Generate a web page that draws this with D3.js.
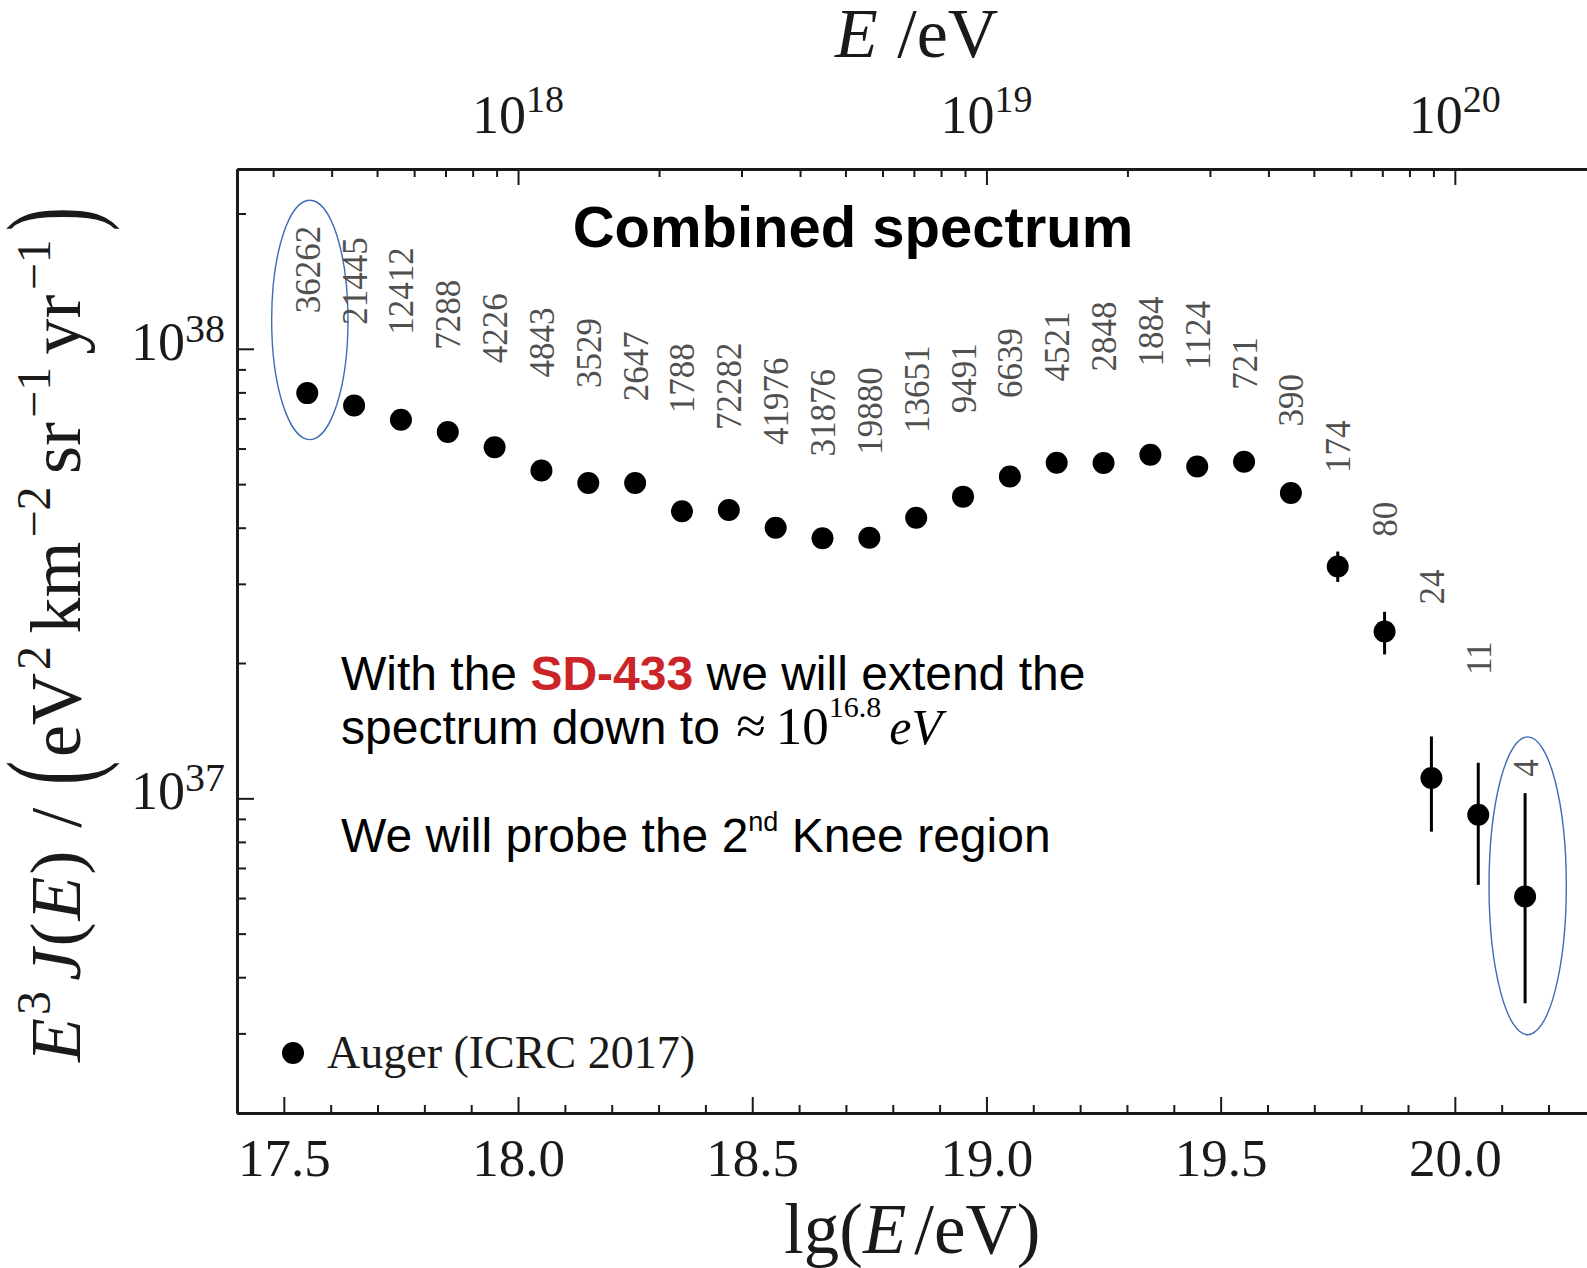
<!DOCTYPE html>
<html>
<head>
<meta charset="utf-8">
<script src="https://cdn.jsdelivr.net/npm/d3@7"></script>
<style>
  html, body { margin: 0; padding: 0; background: #fff; }
  svg { display: block; }
</style>
</head>
<body>
<svg id="chart" width="1587" height="1268"></svg>
<script>
// Auger combined spectrum (ICRC 2017): bin centres in lg(E/eV)
const lgEnergy = [17.55, 17.65, 17.75, 17.85, 17.95, 18.05, 18.15, 18.25, 18.35,
                  18.45, 18.55, 18.65, 18.75, 18.85, 18.95, 19.05, 19.15, 19.25,
                  19.35, 19.45, 19.55, 19.65, 19.75, 19.85, 19.95, 20.05, 20.15];

// E^3 J(E) in eV^2 km^-2 sr^-1 yr^-1
const fluxE3J = [7.97e37, 7.48e37, 6.95e37, 6.53e37, 6.04e37, 5.36e37, 5.03e37, 5.03e37, 4.35e37,
                 4.38e37, 4.00e37, 3.79e37, 3.80e37, 4.21e37, 4.69e37, 5.20e37, 5.58e37, 5.57e37,
                 5.81e37, 5.47e37, 5.61e37, 4.78e37, 3.28e37, 2.35e37, 1.11e37, 9.19e36, 6.05e36];

// error bar limits (null where the bar is hidden by the marker)
const fluxLow  = [null, null, null, null, null, null, null, null, null,
                  null, null, null, null, null, null, null, null, null,
                  null, null, null, null, 3.03e37, 2.09e37, 8.43e36, 6.42e36, 3.50e36];
const fluxHigh = [null, null, null, null, null, null, null, null, null,
                  null, null, null, null, null, null, null, null, null,
                  null, null, null, null, 3.54e37, 2.60e37, 1.373e37, 1.20e37, 1.027e37];

// number of events per bin
const eventCounts = [36262, 21445, 12412, 7288, 4226, 4843, 3529, 2647, 1788,
                     72282, 41976, 31876, 19880, 13651, 9491, 6639, 4521, 2848,
                     1884, 1124, 721, 390, 174, 80, 24, 11, 4];

// flux level where each event-count label starts
const countLabelLevel = [1.20e38, 1.131e38, 1.074e38, 9.95e37, 9.29e37, 8.63e37, 8.18e37, 7.64e37, 7.19e37,
                         6.60e37, 6.11e37, 5.76e37, 5.81e37, 6.50e37, 7.19e37, 7.77e37, 8.46e37, 8.90e37,
                         9.13e37, 8.98e37, 8.11e37, 6.72e37, 5.29e37, 3.82e37, 2.70e37, 1.88e37, 1.117e37];

// tick labels
const bottomTickValues = [17.5, 18.0, 18.5, 19.0, 19.5, 20.0];
const topDecades = [18, 19, 20];
const leftDecades = [37, 38];

// highlighted bins (lg E range and flux range enclosed by each ellipse)
const highlightLgLow   = [17.474, 20.073];
const highlightLgHigh  = [17.637, 20.238];
const highlightFluxLow  = [6.28e37, 2.98e36];
const highlightFluxHigh = [2.14e38, 1.37e37];

const svg = d3.select("#chart");
const SERIF = "'Liberation Serif', 'Times New Roman', serif";
const SANS = "'Liberation Sans', Arial, sans-serif";
const INK = "#1a1a1a";

// plot frame
const frameLeft = 237, frameTop = 169, frameBottom = 1113;
const pxPerLg = 468.4;

const x = d3.scaleLinear().domain([17.4, 20.4]).range([frameLeft, frameLeft + 3 * pxPerLg]);
const xE = d3.scaleLog().domain([Math.pow(10, 17.4), Math.pow(10, 20.4)]).range(x.range());
const y = d3.scaleLog().domain([Math.pow(10, 36.3), Math.pow(10, 38.4)]).range([frameBottom, frameTop]);

function styleAxis(g) {
  g.select(".domain").attr("stroke", INK).attr("stroke-width", 3);
  g.selectAll(".tick line").attr("stroke", INK).attr("stroke-width", 2);
}

// ---- bottom axis: lg(E/eV)
const minorX = d3.range(175, 203).map(d => d / 10).filter(v => Math.abs(v * 2 - Math.round(v * 2)) > 1e-6);
const gBottomMinor = svg.append("g").attr("transform", `translate(0,${frameBottom})`)
  .call(d3.axisBottom(x).tickValues(minorX).tickSizeInner(-8).tickSizeOuter(0).tickFormat(""));
styleAxis(gBottomMinor);
const gBottom = svg.append("g").attr("transform", `translate(0,${frameBottom})`)
  .call(d3.axisBottom(x).tickValues(bottomTickValues).tickSizeInner(-16).tickSizeOuter(0)
        .tickPadding(25).tickFormat(d3.format(".1f")));
styleAxis(gBottom);
gBottom.selectAll(".tick text")
  .style("font-family", SERIF).style("font-size", "53px").attr("fill", INK);

// ---- top axis: E/eV
const minorE = [];
[17, 18, 19, 20].forEach(p => {
  for (let m = 2; m <= 9; m++) {
    const v = m * Math.pow(10, p);
    if (v > xE.domain()[0] && v < xE.domain()[1]) minorE.push(v);
  }
});
const gTopMinor = svg.append("g").attr("transform", `translate(0,${frameTop})`)
  .call(d3.axisTop(xE).tickValues(minorE).tickSizeInner(-8).tickSizeOuter(0).tickFormat(""));
styleAxis(gTopMinor);
const gTop = svg.append("g").attr("transform", `translate(0,${frameTop})`)
  .call(d3.axisTop(xE).tickValues(topDecades.map(p => Math.pow(10, p)))
        .tickSizeInner(-16).tickSizeOuter(0).tickFormat(""));
styleAxis(gTop);

const topLabels = svg.append("g").selectAll("text").data(topDecades).join("text")
  .attr("x", p => xE(Math.pow(10, p)))
  .attr("y", 133)
  .attr("text-anchor", "middle")
  .style("font-family", SERIF).style("font-size", "54px").attr("fill", INK);
topLabels.append("tspan").text("10");
topLabels.append("tspan").attr("dy", -21).style("font-size", "38px").text(p => p);

// ---- left axis: E^3 J(E)
const minorY = [];
[36, 37, 38].forEach(p => {
  for (let m = 2; m <= 9; m++) {
    const v = m * Math.pow(10, p);
    if (v > y.domain()[0] && v < y.domain()[1]) minorY.push(v);
  }
});
const gLeftMinor = svg.append("g").attr("transform", `translate(${frameLeft},0)`)
  .call(d3.axisLeft(y).tickValues(minorY).tickSizeInner(-9).tickSizeOuter(0).tickFormat(""));
styleAxis(gLeftMinor);
const gLeft = svg.append("g").attr("transform", `translate(${frameLeft},0)`)
  .call(d3.axisLeft(y).tickValues(leftDecades.map(p => Math.pow(10, p)))
        .tickSizeInner(-17).tickSizeOuter(0).tickFormat(""));
styleAxis(gLeft);

const leftLabels = svg.append("g").selectAll("text").data(leftDecades).join("text")
  .attr("x", 225)
  .attr("y", p => y(Math.pow(10, p)) + 11)
  .attr("text-anchor", "end")
  .style("font-family", SERIF).style("font-size", "54px").attr("fill", INK);
leftLabels.append("tspan").text("10");
leftLabels.append("tspan").attr("dy", -18).style("font-size", "40px").text(p => p);

// ---- axis titles
const topTitle = svg.append("text").attr("x", 835).attr("y", 57)
  .style("font-family", SERIF).style("font-size", "70px").attr("fill", INK);
topTitle.append("tspan").style("font-style", "italic").text("E");
topTitle.append("tspan").attr("dx", 2).text(" /eV");

const bottomTitle = svg.append("text").attr("x", 784).attr("y", 1253)
  .style("font-family", SERIF).style("font-size", "71px").attr("fill", INK);
bottomTitle.append("tspan").text("lg(");
bottomTitle.append("tspan").style("font-style", "italic").text("E");
bottomTitle.append("tspan").attr("dx", 8).text("/eV)");

// y title: laid out piece by piece so the large delimiters can be stretched
const yTitleLength = 855;
const yTitleG = svg.append("g").attr("transform", "translate(80,1062) rotate(-90)")
  .style("font-family", SERIF).attr("fill", INK);
const yPieces = [
  { t: "E", it: true }, { t: "3", sup: true }, { t: "J", it: true }, { t: "(" },
  { t: "E", it: true }, { t: ")" }, { t: "/" }, { t: "(", big: true },
  { t: "eV" }, { t: "2", sup: true }, { t: "km" }, { t: "\u22122", sup: true },
  { t: "sr" }, { t: "\u22121", sup: true }, { t: "yr" }, { t: "\u22121", sup: true },
  { t: ")", big: true }
];
const gapWeights = [0.3, 1, 0.2, 0.2, 0.2, 2.2, 2.2, 0.4, 0.3, 1.2, 0.4, 1.2, 0.4, 1.2, 0.4, 0.8];
const yNodes = yPieces.map(p => {
  const t = yTitleG.append("text")
    .style("font-size", p.sup ? "48px" : "72px")
    .style("font-style", p.it ? "italic" : "normal")
    .text(p.t);
  return { p, t, w: t.node().getComputedTextLength() };
});
const natural = d3.sum(yNodes, d => d.w);
const gapUnit = (yTitleLength - natural) / d3.sum(gapWeights);
let cursor = 0;
yNodes.forEach((d, i) => {
  if (d.p.big) {
    // stretch the delimiter across the height of the title
    d.t.attr("transform", `translate(${cursor},-17) scale(1,1.75) translate(0,17)`);
  } else {
    d.t.attr("x", cursor).attr("y", d.p.sup ? -30 : 0);
  }
  cursor += d.w + (i < gapWeights.length ? gapWeights[i] * gapUnit : 0);
});

// ---- chart title
svg.append("text").attr("x", 853).attr("y", 247).attr("text-anchor", "middle")
  .style("font-family", SANS).style("font-size", "58px").style("font-weight", "bold")
  .attr("fill", "#000").text("Combined spectrum");

// ---- highlight ellipses
svg.append("g").selectAll("ellipse").data(highlightLgLow).join("ellipse")
  .attr("cx", (d, i) => (x(highlightLgLow[i]) + x(highlightLgHigh[i])) / 2)
  .attr("cy", (d, i) => (y(highlightFluxLow[i]) + y(highlightFluxHigh[i])) / 2)
  .attr("rx", (d, i) => (x(highlightLgHigh[i]) - x(highlightLgLow[i])) / 2)
  .attr("ry", (d, i) => (y(highlightFluxLow[i]) - y(highlightFluxHigh[i])) / 2)
  .attr("fill", "none").attr("stroke", "#3d6db4").attr("stroke-width", 1.4);

// ---- event count labels
svg.append("g").selectAll("text").data(eventCounts).join("text")
  .attr("transform", (d, i) => `translate(${x(lgEnergy[i]) + 12.5},${y(countLabelLevel[i])}) rotate(-90)`)
  .style("font-family", SERIF).style("font-size", "35px")
  .attr("fill", "#505050").text(d => d);

// ---- error bars and data points
const points = lgEnergy.map((lg, i) => ({ lg, v: fluxE3J[i], lo: fluxLow[i], hi: fluxHigh[i] }));
svg.append("g").selectAll("line").data(points.filter(p => p.lo !== null)).join("line")
  .attr("x1", p => x(p.lg)).attr("x2", p => x(p.lg))
  .attr("y1", p => y(p.lo)).attr("y2", p => y(p.hi))
  .attr("stroke", "#000").attr("stroke-width", 3);
svg.append("g").selectAll("circle").data(points).join("circle")
  .attr("cx", p => x(p.lg)).attr("cy", p => y(p.v)).attr("r", 11).attr("fill", "#000");

// ---- legend
svg.append("circle").attr("cx", 293).attr("cy", 1053).attr("r", 11).attr("fill", "#000");
svg.append("text").attr("x", 327).attr("y", 1068)
  .style("font-family", SERIF).style("font-size", "46px").attr("fill", INK)
  .text("Auger (ICRC 2017)");

// ---- annotation
const note = svg.append("g").attr("fill", "#000").style("font-family", SANS).style("font-size", "48px");
const line1 = note.append("text").attr("x", 341).attr("y", 690);
line1.append("tspan").text("With the ");
line1.append("tspan").style("font-weight", "bold").attr("fill", "#cc2529").text("SD-433");
line1.append("tspan").text(" we will extend the");

const line2 = note.append("text").attr("x", 341).attr("y", 744);
line2.append("tspan").text("spectrum down to ");
line2.append("tspan").attr("dx", 3).style("font-family", SERIF).style("font-size", "54px").text("\u2248");
line2.append("tspan").attr("dx", 10).style("font-family", SERIF).style("font-size", "53px").text("10");
line2.append("tspan").style("font-family", SERIF).style("font-size", "30px").attr("dy", -27).text("16.8");
line2.append("tspan").style("font-family", SERIF).style("font-size", "50px")
  .style("font-style", "italic").attr("dx", 8).attr("dy", 27).text("eV");

const line3 = note.append("text").attr("x", 341).attr("y", 852);
line3.append("tspan").text("We will probe the 2");
line3.append("tspan").style("font-size", "27px").attr("dy", -21).text("nd");
line3.append("tspan").attr("dy", 21).text(" Knee region");
</script>
</body>
</html>
